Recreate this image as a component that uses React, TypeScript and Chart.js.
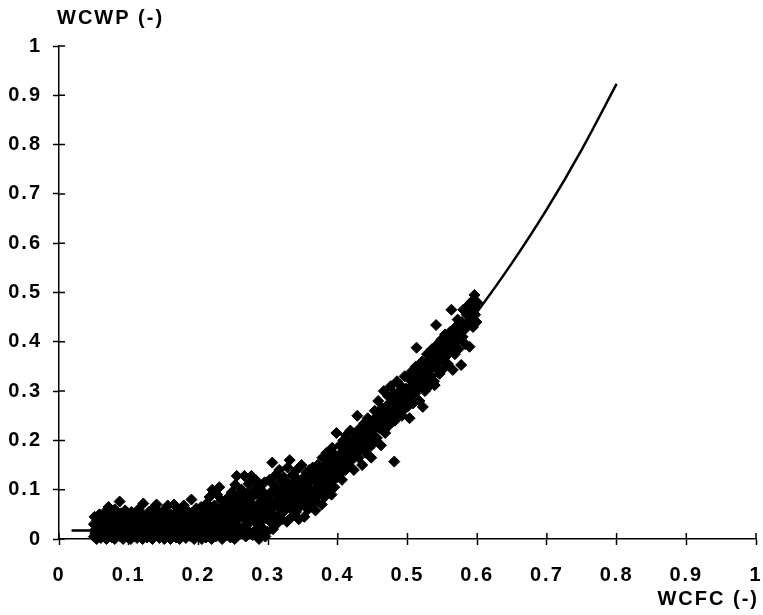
import React, { useEffect, useRef } from "react";
import { Chart, registerables } from "chart.js";

Chart.register(...registerables);

// Axis ticks
const xTickValues = [0, 0.1, 0.2, 0.3, 0.4, 0.5, 0.6, 0.7, 0.8, 0.9, 1];
const yTickValues = [0, 0.1, 0.2, 0.3, 0.4, 0.5, 0.6, 0.7, 0.8, 0.9, 1];
const xTitle = "WCFC (-)";
const yTitle = "WCWP (-)";

// Fitted curve (WCFC, WCWP)
const curveX = [0.018, 0.05, 0.1, 0.15, 0.2, 0.25, 0.3, 0.35, 0.4, 0.45, 0.5, 0.55, 0.6, 0.65, 0.7, 0.75, 0.8];
const curveY = [0.017, 0.017, 0.018, 0.022, 0.033, 0.056, 0.087, 0.126, 0.174, 0.23, 0.297, 0.374, 0.461, 0.56, 0.669, 0.79, 0.923];

// Observations, grouped by WCFC band: [WCFC, WCWP]
const obsBand1: [number, number][] = [
  [0.050,0.005],[0.050,0.030],[0.051,0.045],[0.052,0.012],[0.053,0.020],[0.054,0.000],[0.055,0.038],[0.055,0.008],[0.056,0.025],[0.057,0.015],[0.058,0.050],[0.060,0.002],[0.060,0.032],[0.061,0.018],[0.062,0.010],[0.063,0.042],[0.064,0.006],[0.065,0.028],[0.066,0.055],[0.067,0.015],[0.068,0.000],[0.070,0.035],[0.071,0.065],[0.071,0.022],[0.072,0.008],[0.073,0.048],[0.074,0.012],[0.075,0.030],[0.076,0.003],[0.078,0.040],[0.079,0.018],[0.080,0.060],[0.080,0.000],[0.081,0.025],[0.082,0.010],[0.083,0.045],[0.087,0.076],[0.085,0.015],[0.086,0.035],[0.088,0.005],[0.089,0.052],[0.090,0.020],[0.091,0.030],[0.092,0.000],[0.093,0.012],[0.094,0.040],[0.095,0.058],[0.096,0.008],[0.097,0.025],[0.098,0.018],[0.099,0.035],[0.099,0.003]
];
const obsBand2: [number, number][] = [
  [0.100,0.045],[0.101,0.010],[0.102,0.028],[0.103,0.000],[0.104,0.055],[0.105,0.018],[0.106,0.035],[0.107,0.005],[0.108,0.022],[0.109,0.048],[0.110,0.012],[0.111,0.030],[0.112,0.002],[0.113,0.040],[0.114,0.060],[0.115,0.015],[0.116,0.025],[0.117,0.008],[0.118,0.038],[0.119,0.050],[0.120,0.000],[0.121,0.072],[0.122,0.020],[0.123,0.032],[0.124,0.010],[0.125,0.045],[0.126,0.003],[0.127,0.028],[0.128,0.015],[0.129,0.055],[0.130,0.038],[0.131,0.006],[0.132,0.022],[0.133,0.042],[0.134,0.000],[0.135,0.012],[0.136,0.030],[0.137,0.065],[0.138,0.018],[0.139,0.048],[0.140,0.070],[0.141,0.008],[0.142,0.025],[0.143,0.035],[0.144,0.002],[0.145,0.052],[0.146,0.015],[0.147,0.040],[0.148,0.010],[0.149,0.028],[0.150,0.058],[0.151,0.000],[0.152,0.020],[0.153,0.035],[0.154,0.005],[0.155,0.045],[0.156,0.068],[0.157,0.012],[0.158,0.030],[0.159,0.022],[0.160,0.000],[0.161,0.050],[0.162,0.038],[0.163,0.008],[0.165,0.070],[0.166,0.018],[0.167,0.028],[0.168,0.003],[0.169,0.045],[0.170,0.055],[0.171,0.012],[0.172,0.035],[0.173,0.000],[0.174,0.022],[0.175,0.060],[0.176,0.040],[0.177,0.008],[0.178,0.030],[0.179,0.068],[0.180,0.015],[0.181,0.048],[0.182,0.002],[0.183,0.025],[0.184,0.038],[0.185,0.010],[0.186,0.055],[0.187,0.020],[0.188,0.032],[0.189,0.005],[0.190,0.080],[0.191,0.042],[0.192,0.015],[0.193,0.028],[0.194,0.000],[0.195,0.050],[0.196,0.035],[0.197,0.062],[0.198,0.010],[0.199,0.022]
];
const obsBand3: [number, number][] = [
  [0.200,0.030],[0.201,0.008],[0.202,0.050],[0.203,0.018],[0.204,0.065],[0.205,0.000],[0.206,0.040],[0.207,0.025],[0.208,0.012],[0.209,0.055],[0.210,0.035],[0.211,0.003],[0.212,0.072],[0.213,0.020],[0.214,0.045],[0.215,0.010],[0.216,0.085],[0.217,0.030],[0.218,0.058],[0.219,0.000],[0.220,0.100],[0.221,0.042],[0.222,0.015],[0.223,0.068],[0.224,0.025],[0.225,0.005],[0.226,0.052],[0.227,0.090],[0.228,0.035],[0.229,0.012],[0.230,0.105],[0.231,0.060],[0.232,0.022],[0.233,0.078],[0.234,0.000],[0.235,0.045],[0.236,0.032],[0.237,0.015],[0.238,0.070],[0.240,0.055],[0.241,0.008],[0.242,0.040],[0.243,0.085],[0.244,0.025],[0.245,0.062],[0.246,0.003],[0.247,0.048],[0.248,0.095],[0.249,0.018],[0.250,0.075],[0.251,0.035],[0.252,0.000],[0.253,0.110],[0.254,0.058],[0.255,0.128],[0.256,0.028],[0.257,0.088],[0.258,0.010],[0.259,0.045],[0.260,0.068],[0.262,0.100],[0.263,0.020],[0.264,0.052],[0.265,0.080],[0.266,0.128],[0.267,0.038],[0.268,0.005],[0.269,0.060],[0.270,0.092],[0.271,0.030],[0.272,0.112],[0.273,0.015],[0.274,0.072],[0.275,0.045],[0.276,0.128],[0.277,0.085],[0.278,0.008],[0.279,0.055],[0.280,0.100],[0.281,0.035],[0.282,0.120],[0.283,0.020],[0.284,0.065],[0.285,0.090],[0.286,0.045],[0.287,0.000],[0.288,0.108],[0.289,0.075],[0.290,0.025],[0.291,0.058],[0.292,0.010],[0.293,0.095],[0.294,0.040],[0.295,0.115],[0.296,0.005],[0.297,0.070],[0.298,0.085],[0.299,0.015],[0.300,0.050]
];
const obsBand4: [number, number][] = [
  [0.301,0.080],[0.302,0.120],[0.303,0.035],[0.304,0.095],[0.305,0.060],[0.306,0.155],[0.307,0.020],[0.308,0.110],[0.309,0.075],[0.310,0.045],[0.311,0.130],[0.312,0.030],[0.313,0.088],[0.314,0.065],[0.315,0.100],[0.316,0.140],[0.317,0.050],[0.318,0.082],[0.319,0.118],[0.320,0.040],[0.321,0.095],[0.322,0.070],[0.323,0.125],[0.324,0.058],[0.325,0.105],[0.326,0.085],[0.327,0.035],[0.328,0.145],[0.329,0.078],[0.330,0.112],[0.331,0.160],[0.332,0.062],[0.333,0.098],[0.334,0.045],[0.335,0.130],[0.336,0.088],[0.337,0.115],[0.338,0.070],[0.339,0.100],[0.340,0.055],[0.341,0.140],[0.342,0.082],[0.343,0.120],[0.344,0.040],[0.345,0.095],[0.346,0.108],[0.347,0.068],[0.348,0.150],[0.350,0.088],[0.351,0.125],[0.352,0.045],[0.353,0.105],[0.354,0.075],[0.355,0.135],[0.356,0.092],[0.357,0.060],[0.358,0.115],[0.359,0.140],[0.360,0.080],[0.361,0.100],[0.362,0.125],[0.363,0.065],[0.364,0.145],[0.365,0.095],[0.366,0.118],[0.367,0.078],[0.368,0.058],[0.369,0.130],[0.370,0.105],[0.371,0.150],[0.372,0.088],[0.373,0.120],[0.375,0.098],[0.376,0.140],[0.377,0.070],[0.378,0.165],[0.379,0.112],[0.380,0.130],[0.381,0.085],[0.382,0.150],[0.383,0.100],[0.384,0.175],[0.385,0.122],[0.386,0.095],[0.387,0.145],[0.388,0.110],[0.389,0.160],[0.390,0.135],[0.391,0.090],[0.392,0.185],[0.393,0.120],[0.394,0.150],[0.395,0.105],[0.396,0.170],[0.397,0.140],[0.398,0.215],[0.399,0.125]
];
const obsBand5: [number, number][] = [
  [0.400,0.160],[0.402,0.130],[0.403,0.190],[0.404,0.145],[0.405,0.175],[0.406,0.120],[0.408,0.200],[0.409,0.160],[0.410,0.185],[0.411,0.140],[0.412,0.210],[0.413,0.170],[0.415,0.150],[0.416,0.195],[0.417,0.178],[0.418,0.220],[0.420,0.160],[0.421,0.200],[0.422,0.185],[0.423,0.140],[0.425,0.215],[0.426,0.175],[0.427,0.195],[0.428,0.250],[0.430,0.165],[0.431,0.205],[0.432,0.225],[0.433,0.185],[0.435,0.150],[0.436,0.210],[0.437,0.190],[0.438,0.235],[0.440,0.175],[0.441,0.220],[0.442,0.200],[0.443,0.245],[0.445,0.185],[0.446,0.230],[0.447,0.210],[0.448,0.165],[0.450,0.240],[0.451,0.220],[0.452,0.195],[0.453,0.260],[0.455,0.230],[0.456,0.205],[0.457,0.250],[0.458,0.280],[0.460,0.225],[0.461,0.245],[0.462,0.190],[0.463,0.265],[0.465,0.240],[0.466,0.300],[0.467,0.255],[0.468,0.215],[0.470,0.270],[0.471,0.245],[0.472,0.290],[0.473,0.230],[0.475,0.265],[0.476,0.310],[0.477,0.250],[0.478,0.280],[0.481,0.157],[0.480,0.260],[0.481,0.295],[0.482,0.240],[0.483,0.275],[0.485,0.320],[0.486,0.285],[0.487,0.255],[0.488,0.300],[0.490,0.270],[0.491,0.310],[0.492,0.250],[0.493,0.290],[0.495,0.280],[0.496,0.330],[0.497,0.265],[0.498,0.305],[0.499,0.285]
];
const obsBand6: [number, number][] = [
  [0.500,0.300],[0.501,0.270],[0.502,0.325],[0.503,0.245],[0.505,0.290],[0.506,0.340],[0.507,0.310],[0.508,0.275],[0.510,0.320],[0.511,0.295],[0.512,0.350],[0.513,0.388],[0.514,0.305],[0.515,0.330],[0.517,0.280],[0.518,0.345],[0.520,0.315],[0.521,0.360],[0.522,0.268],[0.523,0.335],[0.525,0.300],[0.526,0.355],[0.527,0.325],[0.528,0.375],[0.530,0.340],[0.531,0.310],[0.532,0.365],[0.534,0.330],[0.535,0.385],[0.536,0.350],[0.538,0.320],[0.539,0.312],[0.540,0.370],[0.541,0.434],[0.542,0.345],[0.543,0.395],[0.545,0.360],[0.546,0.335],[0.547,0.380],[0.549,0.405],[0.550,0.365],[0.551,0.345],[0.553,0.390],[0.554,0.415],[0.555,0.370],[0.557,0.400],[0.558,0.355],[0.560,0.385],[0.561,0.420],[0.563,0.465],[0.564,0.395],[0.565,0.343],[0.566,0.410],[0.568,0.375],[0.569,0.430],[0.570,0.400],[0.572,0.445],[0.573,0.385],[0.575,0.420],[0.577,0.353],[0.578,0.440],[0.579,0.410],[0.580,0.465],[0.582,0.425],[0.583,0.395],[0.585,0.455],[0.586,0.435],[0.588,0.475],[0.589,0.390],[0.590,0.445],[0.591,0.480],[0.593,0.460],[0.594,0.430],[0.595,0.485],[0.596,0.495],[0.597,0.455],[0.598,0.470],[0.599,0.440],[0.600,0.480]
];

const FONT_FAMILY = "'Liberation Sans', Arial, sans-serif";

const spacedText = {
  id: "spacedText",
  beforeDraw(chart: any) {
    try {
      (chart.ctx as any).letterSpacing = "2px";
    } catch (e) {}
  },
};

const innerTicksAndTitles = {
  id: "innerTicksAndTitles",
  afterDraw(chart: any) {
    const { ctx, scales, chartArea } = chart;
    const xs = scales.x;
    const ys = scales.y;
    ctx.save();
    ctx.strokeStyle = "#000";
    ctx.lineWidth = 1.5;
    ctx.beginPath();
    for (const v of xTickValues) {
      const px = xs.getPixelForValue(v);
      ctx.moveTo(px, chartArea.bottom);
      ctx.lineTo(px, chartArea.bottom - 6);
    }
    for (const v of yTickValues) {
      const py = ys.getPixelForValue(v);
      ctx.moveTo(chartArea.left, py);
      ctx.lineTo(chartArea.left + 6, py);
    }
    ctx.stroke();
    ctx.fillStyle = "#000";
    (ctx as any).letterSpacing = "2px";
    ctx.font = `bold 20px ${FONT_FAMILY}`;
    ctx.textBaseline = "middle";
    ctx.textAlign = "left";
    ctx.fillText(yTitle, chartArea.left - 2, 18);
    ctx.textAlign = "right";
    ctx.fillText(xTitle, chartArea.right + 3, 599);
    ctx.restore();
  },
};

export default function App() {
  const canvasRef = useRef<HTMLCanvasElement | null>(null);

  useEffect(() => {
    if (!canvasRef.current) return;
    const obs = [...obsBand1, ...obsBand2, ...obsBand3, ...obsBand4, ...obsBand5, ...obsBand6].map(([x, y]) => ({ x, y }));
    const curve = curveX.map((x, i) => ({ x, y: curveY[i] }));
    const chart = new Chart(canvasRef.current, {
      type: "scatter",
      data: {
        datasets: [
          {
            label: "observations",
            data: obs,
            pointStyle: "rectRot",
            pointRadius: 5.5,
            pointBorderWidth: 1,
            backgroundColor: "#000",
            borderColor: "#000",
            clip: false as any,
          },
          {
            label: "curve",
            data: curve,
            showLine: true,
            pointRadius: 0,
            borderColor: "#000",
            borderWidth: 2.5,
            cubicInterpolationMode: "monotone",
            clip: false as any,
          } as any,
        ],
      },
      options: {
        animation: false,
        responsive: true,
        maintainAspectRatio: false,
        layout: { padding: { top: 46, right: 7, left: 0, bottom: 0 } },
        plugins: { legend: { display: false }, tooltip: { enabled: false }, title: { display: false } },
        scales: {
          x: {
            type: "linear",
            min: 0,
            max: 1,
            afterBuildTicks: (scale: any) => {
              scale.ticks = xTickValues.map((v) => ({ value: v }));
            },
            afterFit: (scale: any) => {
              scale.height = 76;
              scale.paddingLeft = 0;
              scale.paddingRight = 0;
            },
            border: { display: true, color: "#000", width: 1.5 },
            grid: { drawOnChartArea: false, drawTicks: true, tickLength: 6, tickWidth: 1.5, tickColor: "#000" },
            ticks: {
              color: "#000",
              padding: 18,
              maxRotation: 0,
              autoSkip: false,
              font: { family: FONT_FAMILY, size: 20, weight: "bold" },
              callback: (v: any) => String(Number(v)),
            },
          },
          y: {
            type: "linear",
            min: 0,
            max: 1,
            afterBuildTicks: (scale: any) => {
              scale.ticks = yTickValues.map((v) => ({ value: v }));
            },
            afterFit: (scale: any) => {
              scale.width = 59;
              scale.paddingTop = 0;
              scale.paddingBottom = 0;
            },
            border: { display: true, color: "#000", width: 1.5 },
            grid: { drawOnChartArea: false, drawTicks: true, tickLength: 6, tickWidth: 1.5, tickColor: "#000" },
            ticks: {
              color: "#000",
              padding: 11,
              autoSkip: false,
              font: { family: FONT_FAMILY, size: 20, weight: "bold" },
              callback: (v: any) => String(Number(v)),
            },
          },
        },
      },
      plugins: [spacedText, innerTicksAndTitles],
    });
    return () => chart.destroy();
  }, []);

  return (
    <div style={{ position: "fixed", left: 0, top: 0, width: 763, height: 615, background: "#fff" }}>
      <canvas ref={canvasRef} />
    </div>
  );
}
